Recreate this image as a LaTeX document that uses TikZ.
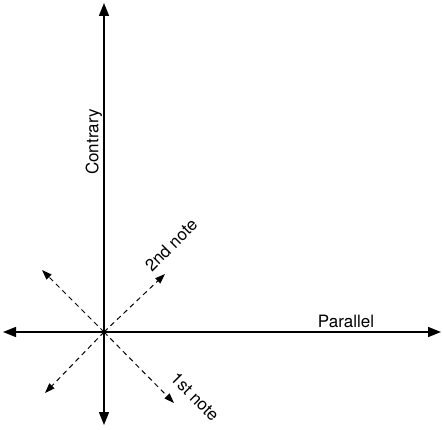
\documentclass[tikz,border=0pt]{standalone}
\usepackage{fontspec}
\setmainfont{TeX Gyre Heros}
\usetikzlibrary{arrows.meta}
\tikzset{axis/.style={line width=1.6pt,-{Triangle[length=13pt,width=10pt]}},
  move/.style={line width=1pt,dash pattern=on 5pt off 4pt,-{Triangle[length=10pt,width=7pt]}},
  lbl/.style={inner sep=0pt,font=\fontsize{17}{19}\selectfont}}
\begin{document}
\begin{tikzpicture}[x=1pt,y=1pt]
\useasboundingbox(0,0)rectangle(443,429);
% axes
\coordinate(o)at(104,97);
\coordinate(up)at(104,426);\coordinate(dn)at(104,4);
\coordinate(lt)at(3,97);\coordinate(rt)at(441,97);
\draw[axis](o)--(up);\draw[axis](o)--(dn);
\draw[axis](o)--(lt);\draw[axis](o)--(rt);
% note moves
\coordinate(ur)at(165,155);\coordinate(ul)at(42,159);
\coordinate(ll)at(45,36);\coordinate(lr)at(174,26);
\foreach \t in {ur,ul,ll,lr}\draw[move](o)--(\t);
\fill(o)circle(2pt);
% labels
\node[lbl,rotate=90](contrary)at(94,287){Contrary};
\node[lbl](parallel)at(346,108){Parallel};
\node[lbl,rotate=45](second)at(171,184){2nd note};
\node[lbl,rotate=-45](first)at(195,32){1st note};
\end{tikzpicture}
\end{document}
